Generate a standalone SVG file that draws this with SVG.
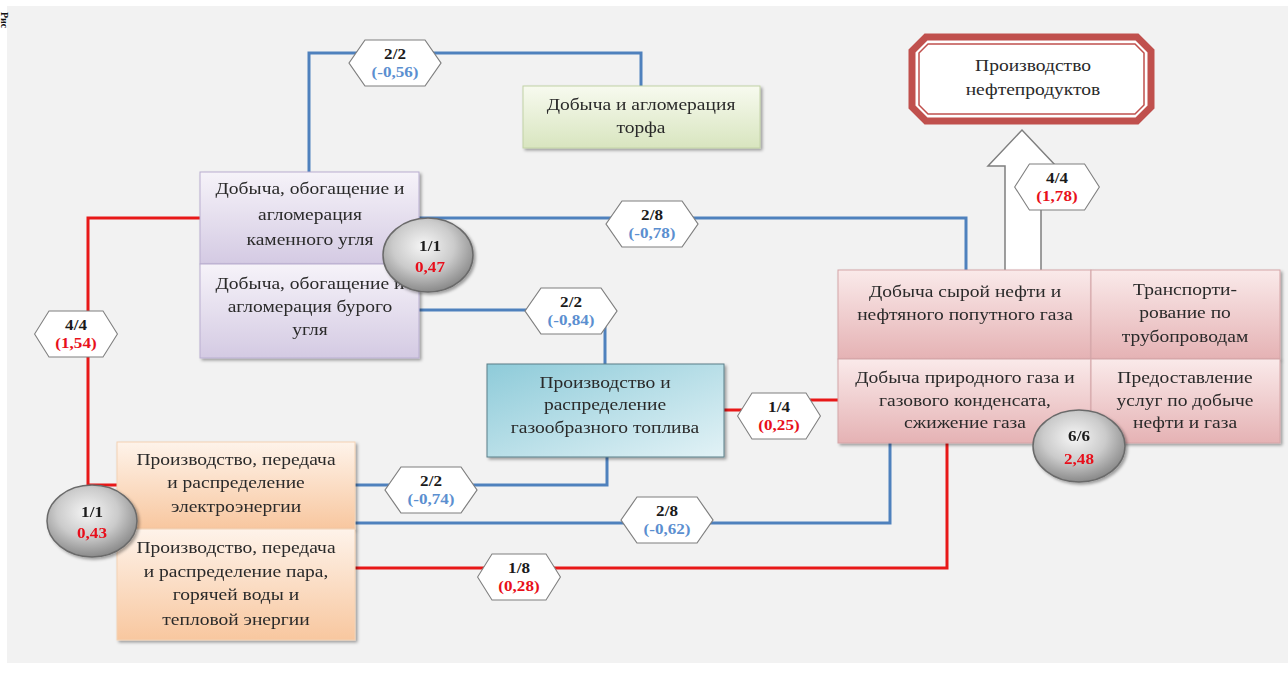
<svg xmlns="http://www.w3.org/2000/svg" xmlns:xlink="http://www.w3.org/1999/xlink" width="1288" height="674" viewBox="0 0 1288 674">
<style>
.t{font-family:"Liberation Serif","Times New Roman",serif;font-size:16px;fill:#2a2a2a;text-anchor:middle}
.hl{font-family:"Liberation Serif","Times New Roman",serif;font-size:14px;font-weight:bold;fill:#1a1a1a;text-anchor:middle}
.bt{font-size:14px}
.vb{fill:#5b8fd0}
.vr{fill:#e8101a}
.lb{fill:none;stroke:#4f81bd;stroke-width:3}
.lr{fill:none;stroke:#e81818;stroke-width:3}
.hex{fill:#ffffff;stroke:#7f7f7f;stroke-width:1.2}
.ball{fill:url(#gball);stroke:#6a6a6a;stroke-width:1.5}
</style>
<defs>
<filter id="sh" x="-10%" y="-10%" width="130%" height="130%">
<feDropShadow dx="2" dy="2" stdDeviation="1.5" flood-color="#000" flood-opacity="0.35"/>
</filter>
<linearGradient id="gcoal" x1="0" y1="0" x2="0" y2="1"><stop offset="0" stop-color="#f6f3f9"/><stop offset="1" stop-color="#d4cae3"/></linearGradient>
<linearGradient id="gpeat" x1="0" y1="0" x2="0" y2="1"><stop offset="0" stop-color="#f7faef"/><stop offset="1" stop-color="#d8e5bf"/></linearGradient>
<linearGradient id="ggas" x1="0" y1="0" x2="1" y2="1"><stop offset="0" stop-color="#8ecbd9"/><stop offset="1" stop-color="#e2f2f6"/></linearGradient>
<linearGradient id="goil" x1="0" y1="0" x2="0" y2="1"><stop offset="0" stop-color="#faeaea"/><stop offset="1" stop-color="#e5b2b4"/></linearGradient>
<linearGradient id="gel" x1="0" y1="0" x2="0" y2="1"><stop offset="0" stop-color="#fef3ea"/><stop offset="1" stop-color="#f8c79f"/></linearGradient>
<radialGradient id="gball" cx="0.45" cy="0.38" r="0.62"><stop offset="0" stop-color="#f6f6f6"/><stop offset="0.55" stop-color="#cbcbcb"/><stop offset="1" stop-color="#8a8a8a"/></radialGradient>
<polygon id="hex" points="-46,0 -30,-23 30,-23 46,0 30,23 -30,23"/>
</defs>
<rect x="0" y="0" width="1288" height="674" fill="#ffffff"/>
<rect x="7" y="6" width="1281" height="657" fill="#f2f2f2"/>
<text transform="translate(1,12) rotate(90)" style="font-family:'Liberation Serif',serif;font-size:10px;font-weight:bold;fill:#111">Рис</text>

<g id="connectors">
<path class="lb" d="M309,172 V53 H641 V86"/>
<path class="lb" d="M419,218 H966 V270"/>
<path class="lb" d="M419,310 H605 V364"/>
<path class="lb" d="M607,457 V485 H355"/>
<path class="lb" d="M355,523 H890 V443"/>
<path class="lr" d="M200,218 H88 V485 H117"/>
<path class="lr" d="M724,410 H778 V400 H838"/>
<path class="lr" d="M355,568 H947 V443"/>
<polygon points="1005,272 1005,166 988,166 1022,130 1056,166 1041,166 1041,272" fill="#ffffff" stroke="#7f7f7f" stroke-width="1.5"/>
</g>

<g id="peat" filter="url(#sh)">
<rect x="523" y="86" width="237" height="62" fill="url(#gpeat)" stroke="#c2d2a6" stroke-width="1"/>
<g transform="translate(641 0) scale(1.22 1)"><text class="t" x="0" y="110">Добыча и агломерация</text><text class="t" x="0" y="133">торфа</text></g>
</g>

<g id="coal" filter="url(#sh)">
<rect x="200" y="172" width="219" height="92" fill="url(#gcoal)" stroke="#b9aed0" stroke-width="1"/>
<g transform="translate(310 0) scale(1.22 1)"><text class="t" x="0" y="194">Добыча, обогащение и</text><text class="t" x="0" y="220">агломерация</text><text class="t" x="0" y="245">каменного угля</text></g>
</g>
<g id="browncoal" filter="url(#sh)">
<rect x="200" y="264" width="219" height="94" fill="url(#gcoal)" stroke="#b9aed0" stroke-width="1"/>
<g transform="translate(310 0) scale(1.22 1)"><text class="t" x="0" y="289">Добыча, обогащение и</text><text class="t" x="0" y="312">агломерация бурого</text><text class="t" x="0" y="335">угля</text></g>
</g>

<g id="gas" filter="url(#sh)">
<rect x="487" y="364" width="237" height="93" fill="url(#ggas)" stroke="#5a7f88" stroke-width="1"/>
<g transform="translate(605 0) scale(1.22 1)"><text class="t" x="0" y="388">Производство и</text><text class="t" x="0" y="410">распределение</text><text class="t" x="0" y="433">газообразного топлива</text></g>
</g>

<g id="electricity" filter="url(#sh)">
<rect x="117" y="442" width="238" height="87" fill="url(#gel)" stroke="#f3d2b4" stroke-width="1"/>
<g transform="translate(236 0) scale(1.22 1)"><text class="t" x="0" y="465">Производство, передача</text><text class="t" x="0" y="488">и распределение</text><text class="t" x="0" y="512">электроэнергии</text></g>
</g>
<g id="heat" filter="url(#sh)">
<rect x="117" y="529" width="238" height="111" fill="url(#gel)" stroke="#f3d2b4" stroke-width="1"/>
<g transform="translate(236 0) scale(1.22 1)"><text class="t" x="0" y="553">Производство, передача</text><text class="t" x="0" y="577">и распределение пара,</text><text class="t" x="0" y="600">горячей воды и</text><text class="t" x="0" y="625">тепловой энергии</text></g>
</g>

<g id="oil" filter="url(#sh)">
<rect x="838" y="270" width="253" height="89" fill="url(#goil)" stroke="#d4a5a7" stroke-width="1"/>
<g transform="translate(965 0) scale(1.22 1)"><text class="t" x="0" y="297">Добыча сырой нефти и</text><text class="t" x="0" y="320">нефтяного попутного газа</text></g>
</g>
<g id="pipeline" filter="url(#sh)">
<rect x="1091" y="270" width="189" height="89" fill="url(#goil)" stroke="#d4a5a7" stroke-width="1"/>
<g transform="translate(1185 0) scale(1.22 1)"><text class="t" x="0" y="295">Транспорти-</text><text class="t" x="0" y="318">рование по</text><text class="t" x="0" y="342">трубопроводам</text></g>
</g>
<g id="natgas" filter="url(#sh)">
<rect x="838" y="359" width="253" height="84" fill="url(#goil)" stroke="#d4a5a7" stroke-width="1"/>
<g transform="translate(965 0) scale(1.22 1)"><text class="t" x="0" y="383">Добыча природного газа и</text><text class="t" x="0" y="406">газового конденсата,</text><text class="t" x="0" y="428">сжижение газа</text></g>
</g>
<g id="services" filter="url(#sh)">
<rect x="1091" y="359" width="189" height="84" fill="url(#goil)" stroke="#d4a5a7" stroke-width="1"/>
<g transform="translate(1185 0) scale(1.22 1)"><text class="t" x="0" y="383">Предоставление</text><text class="t" x="0" y="406">услуг по добыче</text><text class="t" x="0" y="428">нефти и газа</text></g>
</g>

<g id="products">
<polygon points="926,37 1137,37 1151,51 1151,107 1137,121 926,121 912,107 912,51" fill="#ffffff" stroke="#c0504d" stroke-width="7"/>
<polygon points="928,44 1135,44 1144,53 1144,105 1135,114 928,114 919,105 919,53" fill="#ffffff" stroke="#c0504d" stroke-width="1.5"/>
<g transform="translate(1033 0) scale(1.22 1)"><text class="t" x="0" y="71">Производство</text><text class="t" x="0" y="95">нефтепродуктов</text></g>
</g>

<g id="labels">
<use xlink:href="#hex" class="hex" transform="translate(395 63)"/>
<g transform="translate(395 0) scale(1.22 1)"><text class="hl" x="0" y="59">2/2</text><text class="hl vb" x="0" y="77">(-0,56)</text></g>
<use xlink:href="#hex" class="hex" transform="translate(652 224)"/>
<g transform="translate(652 0) scale(1.22 1)"><text class="hl" x="0" y="220">2/8</text><text class="hl vb" x="0" y="238">(-0,78)</text></g>
<use xlink:href="#hex" class="hex" transform="translate(571 311)"/>
<g transform="translate(571 0) scale(1.22 1)"><text class="hl" x="0" y="307">2/2</text><text class="hl vb" x="0" y="325">(-0,84)</text></g>
<use xlink:href="#hex" class="hex" transform="translate(779 416) scale(0.9 1)"/>
<g transform="translate(779 0) scale(1.22 1)"><text class="hl" x="0" y="412">1/4</text><text class="hl vr" x="0" y="430">(0,25)</text></g>
<use xlink:href="#hex" class="hex" transform="translate(431 490)"/>
<g transform="translate(431 0) scale(1.22 1)"><text class="hl" x="0" y="486">2/2</text><text class="hl vb" x="0" y="504">(-0,74)</text></g>
<use xlink:href="#hex" class="hex" transform="translate(667 520)"/>
<g transform="translate(667 0) scale(1.22 1)"><text class="hl" x="0" y="516">2/8</text><text class="hl vb" x="0" y="534">(-0,62)</text></g>
<use xlink:href="#hex" class="hex" transform="translate(519 577) scale(0.9 1)"/>
<g transform="translate(519 0) scale(1.22 1)"><text class="hl" x="0" y="573">1/8</text><text class="hl vr" x="0" y="591">(0,28)</text></g>
<use xlink:href="#hex" class="hex" transform="translate(1057 187) scale(0.92 1)"/>
<g transform="translate(1057 0) scale(1.22 1)"><text class="hl" x="0" y="183">4/4</text><text class="hl vr" x="0" y="201">(1,78)</text></g>
<use xlink:href="#hex" class="hex" transform="translate(76 334) scale(0.9 1)"/>
<g transform="translate(76 0) scale(1.22 1)"><text class="hl" x="0" y="330">4/4</text><text class="hl vr" x="0" y="348">(1,54)</text></g>
</g>

<g id="ball-coal" filter="url(#sh)">
<ellipse class="ball" cx="428" cy="255" rx="45" ry="37"/>
<g transform="translate(430 0) scale(1.22 1)"><text class="hl bt" x="0" y="251">1/1</text><text class="hl bt vr" x="0" y="272">0,47</text></g>
</g>
<g id="ball-energy" filter="url(#sh)">
<ellipse class="ball" cx="92" cy="521" rx="45" ry="36"/>
<g transform="translate(92 0) scale(1.22 1)"><text class="hl bt" x="0" y="517">1/1</text><text class="hl bt vr" x="0" y="538">0,43</text></g>
</g>
<g id="ball-oil" filter="url(#sh)">
<ellipse class="ball" cx="1079" cy="446" rx="46" ry="36"/>
<g transform="translate(1079 0) scale(1.22 1)"><text class="hl bt" x="0" y="441">6/6</text><text class="hl bt vr" x="0" y="464">2,48</text></g>
</g>
</svg>
